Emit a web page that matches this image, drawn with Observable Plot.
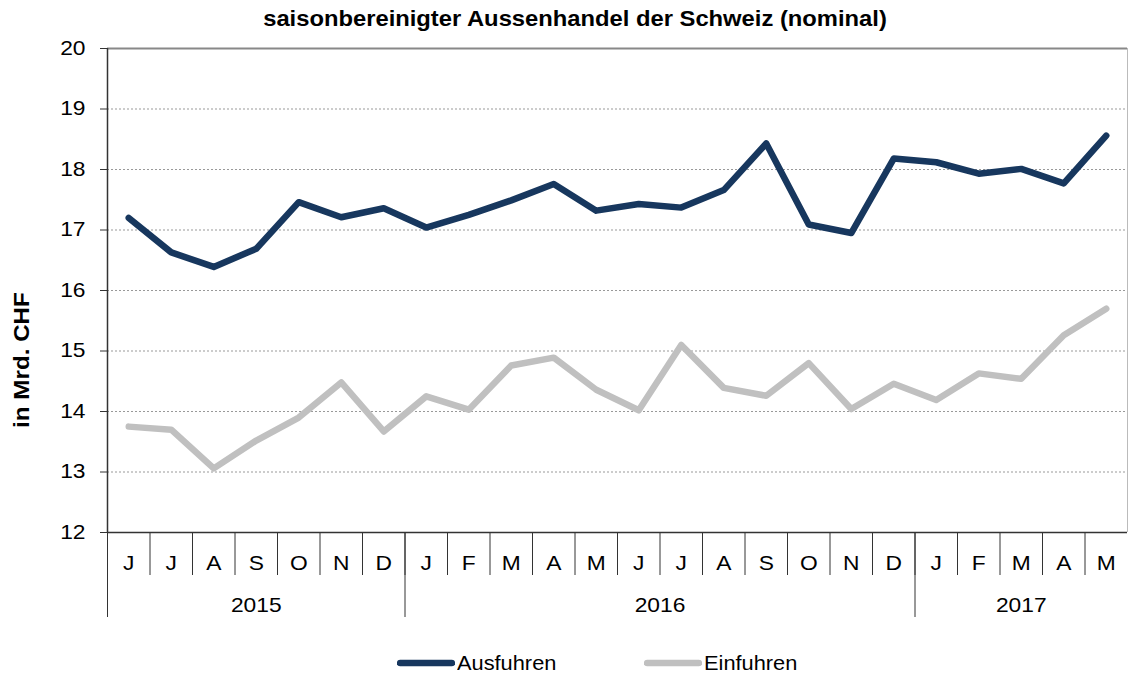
<!DOCTYPE html>
<html><head><meta charset="utf-8">
<script src="https://cdn.jsdelivr.net/npm/d3@7"></script>
<script src="https://cdn.jsdelivr.net/npm/@observablehq/plot@0.6"></script>
<style>
body{margin:0;background:#fff;font-family:"Liberation Sans",Arial,sans-serif;color:#000;}
#wrap{position:relative;width:1128px;height:675px;overflow:hidden;}
#title{position:absolute;top:7px;left:575px;transform:translateX(-50%) scaleX(1.08);white-space:nowrap;font-weight:bold;font-size:22px;line-height:24px;}
#chart{position:absolute;top:36px;left:0;}
#ylab{position:absolute;left:22px;top:360px;transform:translate(-50%,-50%) rotate(-90deg) scaleX(1.1);font-weight:bold;font-size:22px;white-space:nowrap;}
.item{position:absolute;top:651px;display:flex;align-items:center;font-size:20px;line-height:24px;}
.item svg{display:block;margin-right:2px;}
.item span{display:inline-block;transform:scaleX(1.09);transform-origin:left center;}
</style></head>
<body><div id="wrap">
<div id="title">saisonbereinigter Aussenhandel der Schweiz (nominal)</div>
<div id="chart"></div>
<div id="ylab">in Mrd. CHF</div>
</div>
<script>
const months = ["J","J","A","S","O","N","D","J","F","M","A","M","J","J","A","S","O","N","D","J","F","M","A","M"];
const years = ["2015","2016","2017"];
const monthsPerYear = [7,12,5];
const ausfuhren = [17.20,16.63,16.39,16.69,17.46,17.21,17.36,17.04,17.25,17.49,17.76,17.32,17.43,17.37,17.66,18.43,17.09,16.95,18.18,18.12,17.93,18.01,17.77,18.56];
const einfuhren = [13.75,13.70,13.06,13.52,13.90,14.48,13.67,14.25,14.03,14.76,14.89,14.36,14.02,15.10,14.39,14.26,14.80,14.04,14.46,14.19,14.63,14.54,15.26,15.70];
const yTicks = [12,13,14,15,16,17,18,19,20];
const seriesNames = ["Ausfuhren","Einfuhren"];
const seriesColors = ["#17375e","#c0c0c0"];

const table = months.map((m,i)=>({x:i+0.5, aus:ausfuhren[i], ein:einfuhren[i]}));
const n = months.length;
const bounds = d3.range(1, n);
const centers = d3.range(n).map(i=>i+0.5);
const yearBounds = [0, ...d3.cumsum(monthsPerYear).slice(0,-1)];
const yearCenters = yearBounds.map((b,i)=>b+monthsPerYear[i]/2);

const plot = Plot.plot({
  width: 1128, height: 600,
  marginLeft: 107, marginRight: 1, marginTop: 12, marginBottom: 104,
  style: {fontFamily: '"Liberation Sans", Arial, sans-serif', fontSize: "20px", color: "#000", background: "#fff"},
  x: {type: "linear", domain: [0, n]},
  y: {domain: [12, 20]},
  marks: [
    Plot.gridY(yTicks.slice(1,-1), {stroke:"#999", strokeOpacity:1, strokeDasharray:"2,2"}),
    Plot.ruleY([20], {stroke:"#888", strokeWidth:2}),
    Plot.ruleX([n], {stroke:"#bbb"}),
    Plot.axisY({ticks: yTicks, tickSize: 7, tickPadding: 15, label: null, stroke:"#333"}),
    Plot.axisX({ticks: bounds, tickSize: 43, tickFormat: () => "", label: null, stroke:"#333"}),
    Plot.axisX({ticks: centers, tickSize: 0, tickPadding: 23, tickFormat: d => months[Math.floor(d)], label: null}),
    Plot.axisX({ticks: yearBounds, tickSize: 85, tickFormat: () => "", label: null, stroke:"#333"}),
    Plot.axisX({ticks: yearCenters, tickSize: 0, tickPadding: 65, tickFormat: d => years[yearCenters.indexOf(d)], label: null}),
    Plot.ruleX([0], {stroke:"#333", strokeWidth:1.5}),
    Plot.ruleY([12], {stroke:"#333", strokeWidth:1.5}),
    Plot.line(table, {x:"x", y:"ein", stroke: seriesColors[1], strokeWidth:6.5, strokeLinecap:"round", strokeLinejoin:"round"}),
    Plot.line(table, {x:"x", y:"aus", stroke: seriesColors[0], strokeWidth:6.5, strokeLinecap:"round", strokeLinejoin:"round"})
  ]
});
// widen tick labels slightly, as in the reference typeface
plot.querySelectorAll("text").forEach(t => {
  const tr = t.getAttribute("transform") || "";
  t.setAttribute("transform", (tr + " scale(1.14,1)").trim());
});
document.getElementById("chart").append(plot);

const wrap = document.getElementById("wrap");
const legendLeft = [397, 644];
seriesNames.forEach((name,i)=>{
  const it = document.createElement("div");
  it.className = "item";
  it.style.left = legendLeft[i] + "px";
  it.innerHTML = `<svg width="58" height="10"><line x1="3" y1="5" x2="55" y2="5" stroke="${seriesColors[i]}" stroke-width="6.5" stroke-linecap="round"/></svg><span>${name}</span>`;
  wrap.append(it);
});
</script>
</body></html>
